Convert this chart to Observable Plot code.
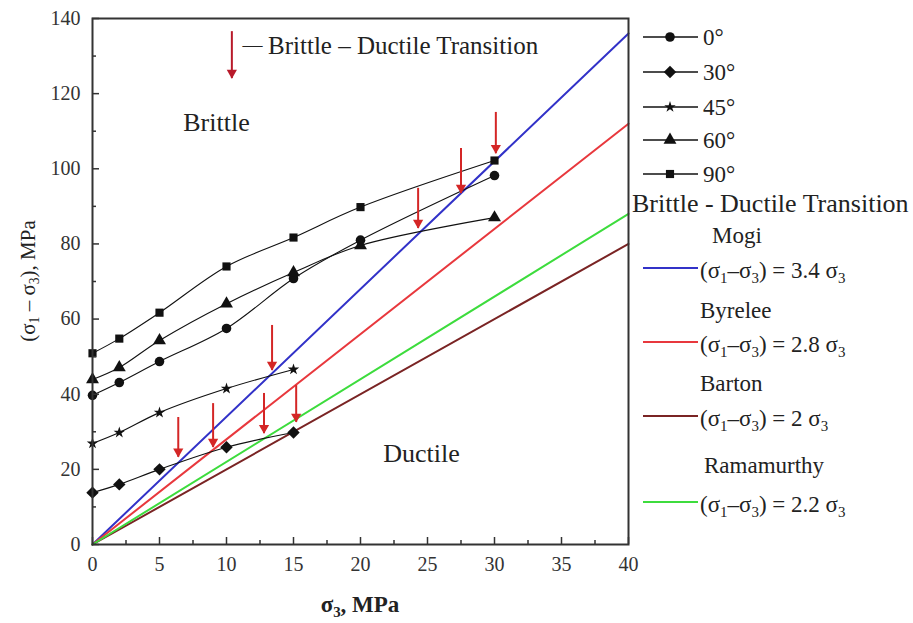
<!DOCTYPE html>
<html><head><meta charset="utf-8">
<script src="https://cdn.jsdelivr.net/npm/d3@7"></script>
<script src="https://cdn.jsdelivr.net/npm/@observablehq/plot@0.6"></script>
<style>
body{margin:0;background:#fff;}
#wrap{position:relative;width:913px;height:623px;font-family:"Liberation Serif","Times New Roman",serif;color:#222;overflow:hidden;}
.lab{position:absolute;white-space:nowrap;line-height:1;transform:translateY(-50%);}
sub{font-size:0.65em;vertical-align:-0.35em;line-height:0}
.sym{position:absolute;}
</style></head><body><div id="wrap"></div>
<script>
// ---- data ----
const xFull = [0, 2, 5, 10, 15, 20, 30];
const xShort = [0, 2, 5, 10, 15];
const seriesNames = ["0°", "30°", "45°", "60°", "90°"];
const seriesSymbols = ["circle", "diamond2", "star", "triangle", "square"];
const y0 = [39.7, 43.1, 48.7, 57.5, 70.8, 81.0, 98.2];
const y30 = [13.8, 16.0, 20.0, 25.9, 29.8];
const y45 = [26.9, 29.8, 35.1, 41.5, 46.6];
const y60 = [43.9, 47.1, 54.3, 64.1, 72.4, 79.6, 87.0];
const y90 = [50.9, 54.8, 61.7, 74.0, 81.7, 89.8, 102.2];

const critNames = ["Mogi", "Byrelee", "Barton", "Ramamurthy"];
const critSlopes = [3.4, 2.8, 2.0, 2.2];
const critColors = ["#3232c8", "#e8383d", "#7a2424", "#3ddc3d"];
const critX = [0, 40];

const arrowX = [6.4, 9.0, 12.8, 15.2, 13.4, 24.3, 27.5, 30.1];
const arrowTop = [33.8, 37.5, 40.2, 42.3, 58.3, 94.8, 105.4, 115.0];
const arrowTip = [23.2, 25.8, 29.5, 32.5, 46.3, 84.1, 93.4, 104.0];
const keyArrow = {x: 10.4, top: 136.5, tip: 124};

const xTicks = [0, 5, 10, 15, 20, 25, 30, 35, 40];
const xMinor = [2.5, 7.5, 12.5, 17.5, 22.5, 27.5, 32.5, 37.5];
const yTicks = [0, 20, 40, 60, 80, 100, 120, 140];
const yMinor = [10, 30, 50, 70, 90, 110, 130];

const regionNotes = [
  {x: 9.25, y: 112.3, text: "Brittle"},
  {x: 24.55, y: 24.2, text: "Ductile"}
];
const keyDash = {x: 11.2, y: 132.8, text: "—"};
const keyNote = {x: 13.1, y: 132.6, text: "Brittle – Ductile Transition"};

// ---- build tables ----
const ys = [y0, y30, y45, y60, y90];
const pts = [];
ys.forEach((arr, i) => arr.forEach((v, j) => pts.push({s: seriesNames[i], sym: seriesSymbols[i], x: (arr.length === 7 ? xFull : xShort)[j], y: v})));
const crit = [];
critNames.forEach((n, i) => critX.forEach(x => crit.push({n, c: critColors[i], x, y: critSlopes[i] * x})));
const arrows = arrowX.map((x, i) => ({x, top: arrowTop[i], tip: arrowTip[i]}));

const symR = {circle: 4.8, diamond2: 5.6, star: 3.6, triangle: 4.8, square: 4.6};
const red = "#d42626";
const plot = Plot.plot({
  width: 913, height: 623,
  marginTop: 18, marginBottom: 79, marginLeft: 92, marginRight: 285,
  x: {domain: [0, 40]},
  y: {domain: [0, 140]},
  symbol: {domain: seriesSymbols, range: seriesSymbols},
  style: {fontFamily: "Liberation Serif, Times New Roman, serif", fontSize: "20px", color: "#222", background: "#fff"},
  marks: [
    Plot.line(crit, {x: "x", y: "y", z: "n", stroke: "c", strokeWidth: 2}),
    Plot.line(pts, {x: "x", y: "y", z: "s", stroke: "#111", strokeWidth: 1.1, curve: "catmull-rom"}),
    ...seriesSymbols.map(sym => Plot.dot(pts.filter(d => d.sym === sym), {x: "x", y: "y", symbol: "sym", r: symR[sym], fill: "#111", stroke: "none"})),
    Plot.ruleX(arrows, {x: "x", y1: "top", y2: "tip", stroke: red, strokeWidth: 2}),
    Plot.dot(arrows, {x: "x", y: "tip", symbol: "triangle", rotate: 180, r: 3.8, fill: red, stroke: "none", dy: -5.8}),
    Plot.ruleX([keyArrow], {x: "x", y1: "top", y2: "tip", stroke: "#b81a2a", strokeWidth: 2}),
    Plot.dot([keyArrow], {x: "x", y: "tip", symbol: "triangle", rotate: 180, r: 3.8, fill: "#b81a2a", stroke: "none", dy: -5.8}),
    Plot.text(regionNotes, {x: "x", y: "y", text: "text", textAnchor: "middle", fontSize: 26, fill: "#222"}),
    Plot.text([keyDash], {x: "x", y: "y", text: "text", textAnchor: "start", fontSize: 20, fill: "#222"}),
    Plot.text([keyNote], {x: "x", y: "y", text: "text", textAnchor: "start", fontSize: 25, fill: "#222"}),
    Plot.axisX({ticks: xTicks, tickSize: 7, dy: -7, fill: "none", label: null, stroke: "#333", strokeWidth: 1.5}),
    Plot.axisX({ticks: xMinor, tickSize: 4, dy: -4, fill: "none", label: null, stroke: "#333", strokeWidth: 1.5}),
    Plot.axisX({ticks: xTicks, tickSize: 0, tickPadding: 12, label: null, stroke: "none", fill: "#333"}),
    Plot.axisY({ticks: yTicks, tickSize: 7, dx: 7, fill: "none", label: null, stroke: "#333", strokeWidth: 1.5}),
    Plot.axisY({ticks: yMinor, tickSize: 4, dx: 4, fill: "none", label: null, stroke: "#333", strokeWidth: 1.5}),
    Plot.axisY({ticks: yTicks, tickSize: 0, tickPadding: 12, label: null, stroke: "none", fill: "#333"}),
    Plot.frame({stroke: "#333", strokeWidth: 2})
  ]
});
const wrap = document.getElementById("wrap");
wrap.appendChild(plot);

function addLabel(html, left, top, size, extra = "") {
  const d = document.createElement("div");
  d.className = "lab";
  d.style.cssText = `left:${left}px;top:${top}px;font-size:${size}px;${extra}`;
  d.innerHTML = html;
  wrap.appendChild(d);
  return d;
}
// axis titles
addLabel("σ<sub>3</sub>, MPa", 360, 604, 23, "font-weight:bold;transform:translate(-50%,-50%);");
addLabel("(σ<sub>1</sub> – σ<sub>3</sub>), MPa", 28, 281, 21, "transform:translate(-50%,-50%) rotate(-90deg);");

// legend
const NS = "http://www.w3.org/2000/svg";
const d3Sym = {circle: d3.symbolCircle, diamond2: d3.symbolDiamond2, star: d3.symbolStar, triangle: d3.symbolTriangle, square: d3.symbolSquare};
function legendSwatch(top, color, sym, width) {
  const svg = document.createElementNS(NS, "svg");
  svg.setAttribute("width", 60); svg.setAttribute("height", 20);
  svg.setAttribute("class", "sym");
  svg.style.left = "642px"; svg.style.top = (top - 10) + "px";
  const ln = document.createElementNS(NS, "line");
  ln.setAttribute("x1", 1); ln.setAttribute("x2", 56); ln.setAttribute("y1", 10); ln.setAttribute("y2", 10);
  ln.setAttribute("stroke", color); ln.setAttribute("stroke-width", width);
  svg.appendChild(ln);
  if (sym) {
    const r = symR[sym];
    const p = document.createElementNS(NS, "path");
    p.setAttribute("d", d3.symbol(d3Sym[sym], Math.PI * r * r)());
    p.setAttribute("transform", "translate(28,10)");
    p.setAttribute("fill", "#111");
    svg.appendChild(p);
  }
  wrap.appendChild(svg);
}
const seriesRows = [37, 72, 107, 140, 174];
seriesNames.forEach((n, i) => {
  legendSwatch(seriesRows[i], "#111", seriesSymbols[i], 1.3);
  addLabel(n, 703, seriesRows[i], 23);
});
addLabel("Brittle - Ductile Transition", 632, 204, 26);
const critTitleRows = [235, 310, 383, 465];
const critTitleLeft = [712, 700, 700, 704];
const critLineRows = [268, 342, 416, 502];
const eq = s => `(σ<sub>1</sub>–σ<sub>3</sub>) = ${s} σ<sub>3</sub>`;
critNames.forEach((n, i) => {
  addLabel(n, critTitleLeft[i], critTitleRows[i], 23);
  legendSwatch(critLineRows[i], critColors[i], null, 2);
  addLabel(eq(critSlopes[i] === 2 ? "2" : critSlopes[i].toFixed(1)), 700, critLineRows[i] + 2, 23);
});
</script></body></html>
